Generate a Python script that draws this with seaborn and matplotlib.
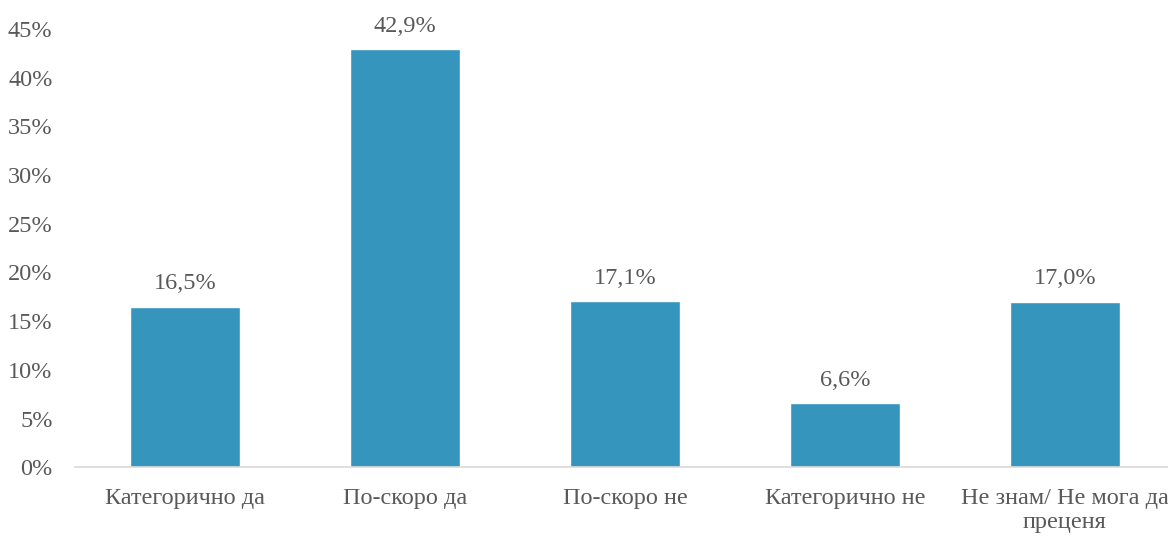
import pandas as pd
import seaborn as sns
import matplotlib.pyplot as plt
from matplotlib.ticker import PercentFormatter

categories = ['Категорично да', 'По-скоро да', 'По-скоро не', 'Категорично не', 'Не знам/ Не мога да\nпреценя']
values = [16.5, 42.9, 17.1, 6.6, 17.0]

df = pd.DataFrame({'category': categories, 'value': values})

sns.set_style('white')
plt.rcParams['font.family'] = ['Liberation Serif', 'DejaVu Serif']
text_color = '#595959'

fig = plt.figure(figsize=(11.68, 5.37), dpi=100)
ax = fig.add_axes([0.064, 0.130, 0.942, 0.816])
sns.barplot(data=df, x='category', y='value', color='#3595BC', width=0.5, saturation=1, ax=ax)

for i, v in enumerate(values):
    ax.text(i, v + 1.25, f'{v:.1f}%'.replace('.', ','), ha='center', va='bottom',
            fontsize=17.5, color=text_color)

ax.set_ylim(0, 45)
ax.set_yticks(range(0, 46, 5))
ax.yaxis.set_major_formatter(PercentFormatter(decimals=0))
ax.set_xlabel('')
ax.set_ylabel('')
ax.tick_params(axis='both', labelsize=17.5, colors=text_color, length=0)
ax.tick_params(axis='y', pad=16)
ax.tick_params(axis='x', pad=15)
for s in ['top', 'right', 'left']:
    ax.spines[s].set_visible(False)
ax.spines['bottom'].set_color('#D9D9D9')
ax.spines['bottom'].set_linewidth(1.2)

fig.savefig('out.png', dpi=100)
